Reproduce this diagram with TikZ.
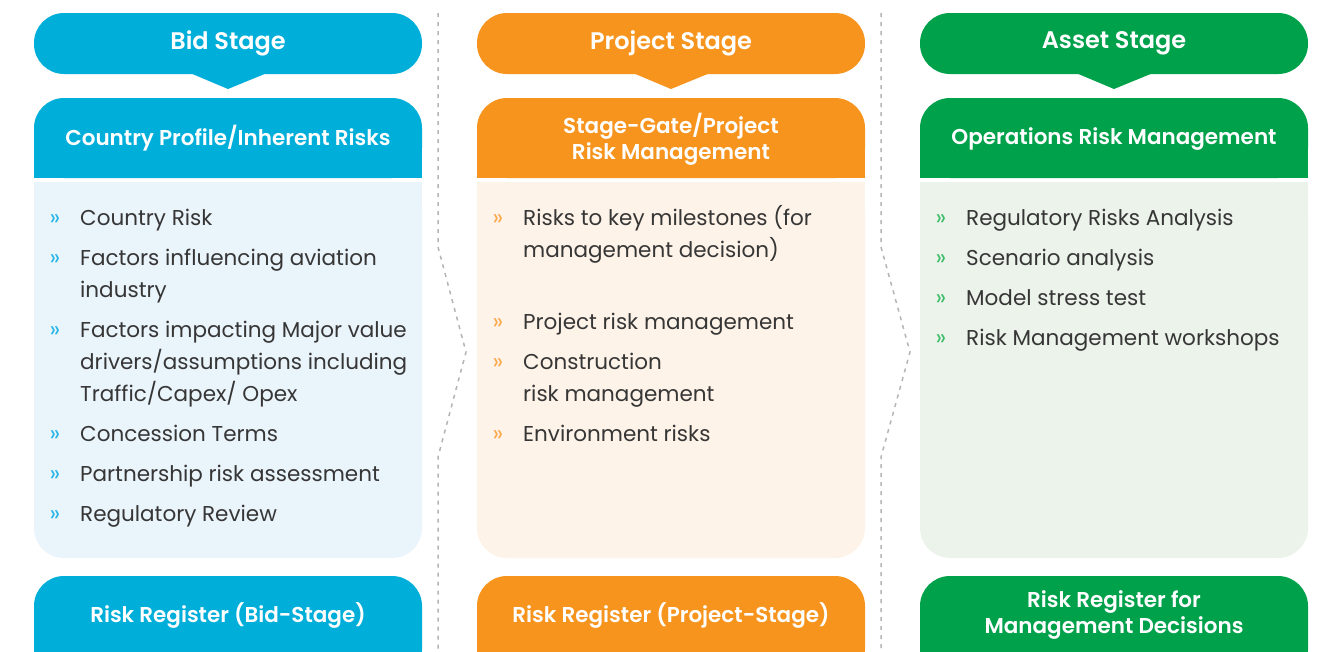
\documentclass[tikz,border=0pt]{standalone}
\usepackage{fontspec}
\setmainfont{Poppins}
\newfontfamily\semib{Poppins SemiBold}
\definecolor{cblue}{HTML}{00AEDA}
\definecolor{corange}{HTML}{F7941D}
\definecolor{cgreen}{HTML}{00A14B}
\definecolor{lblue}{HTML}{EAF4FB}
\definecolor{lorange}{HTML}{FEF3E8}
\definecolor{lgreen}{HTML}{EBF3EA}
\definecolor{bblue}{HTML}{29B6E8}
\definecolor{borange}{HTML}{F9A94B}
\definecolor{bgreen}{HTML}{3DBE6B}
\definecolor{txt}{HTML}{363636}
\definecolor{sep}{HTML}{B5B5B5}
\tikzset{
  head/.style={rounded corners=30pt, minimum width=388pt, minimum height=61pt, inner sep=0pt,
    text=white, font=\fontsize{24}{28}\selectfont\semib},
  subtitle/.style={inner sep=0pt, text=white, align=center, font=\fontsize{21.5}{26}\selectfont\semib},
  line/.style={anchor=base west, inner sep=0pt,
    font=\fontsize{21.5}{25}\selectfont, text=txt},
  bul/.style={anchor=base, inner sep=0pt, font=\fontsize{23}{24}\selectfont},
  sepline/.style={sep, line width=1.5pt, dash pattern=on 4pt off 5pt},
}
\newcommand\panel[3]{%
  % #1 left x, #2 colour, #3 light colour
  \fill[#2] ({#1+156},73) -- ({#1+233},73) -- ({#1+194},89) -- cycle;
  \fill[#2, rounded corners=30pt] (#1,98) rectangle ({#1+388},178);
  \fill[#2] (#1,130) rectangle ({#1+388},178);
  \fill[#3, rounded corners=30pt] (#1,182) rectangle ({#1+388},558);
  \fill[#3] (#1,182) rectangle ({#1+388},240);
  \fill[#2, rounded corners=30pt] (#1,576) rectangle ({#1+388},680);
}
\begin{document}
\begin{tikzpicture}[x=1pt,y=-1pt]
\useasboundingbox (0,0) rectangle (1322,651);
\clip (0,0) rectangle (1322,651);
\fill[white] (0,0) rectangle (1322,651);

\panel{34}{cblue}{lblue}
\panel{477}{corange}{lorange}
\panel{920}{cgreen}{lgreen}

% headers
\node[head, fill=cblue] (h1) at (228,43.5) {Bid Stage};
\node[head, fill=corange] (h2) at (671,43.5) {Project Stage};
\node[head, fill=cgreen] (h3) at (1114,43.5) {Asset Stage};

% sub headers
\node[subtitle] (s1) at (228,138) {Country Profile/Inherent Risks};
\node[subtitle] (s2) at (671,139) {Stage-Gate/Project\\Risk Management};
\node[subtitle] (s3) at (1114,139) {Operations Risk Management};

% bottom registers
\node[subtitle] (r1) at (228,615) {Risk Register (Bid-Stage)};
\node[subtitle] (r2) at (671,615) {Risk Register (Project-Stage)};
\node[subtitle] (r3) at (1114,615) {Risk Register for\\Management Decisions};

% column 1  (y values are baselines)
\foreach \y/\n in {225/a,265/b,337/c,441/d,481/e,521/f}
  \node[bul, text=bblue] (b1\n) at (55,\y) {»};
\node[line] (t1a) at (80,225) {Country Risk};
\node[line] (t1b) at (80,265) {Factors influencing aviation};
\node[line] (t1b2) at (80,297) {industry};
\node[line] (t1c) at (80,337) {Factors impacting Major value};
\node[line] (t1c2) at (80,369) {drivers/assumptions including};
\node[line] (t1c3) at (80,401) {Traffic/Capex/ Opex};
\node[line] (t1d) at (80,441) {Concession Terms};
\node[line] (t1e) at (80,481) {Partnership risk assessment};
\node[line] (t1f) at (80,521) {Regulatory Review};

% column 2
\foreach \y/\n in {225/a,329/b,369/c,441/d}
  \node[bul, text=borange] (b2\n) at (498,\y) {»};
\node[line] (t2a) at (523,225) {Risks to key milestones (for};
\node[line] (t2a2) at (523,257) {management decision)};
\node[line] (t2b) at (523,329) {Project risk management};
\node[line] (t2c) at (523,369) {Construction};
\node[line] (t2c2) at (523,401) {risk management};
\node[line] (t2d) at (523,441) {Environment risks};

% column 3
\foreach \y/\n in {225/a,265/b,305/c,345/d}
  \node[bul, text=bgreen] (b3\n) at (941,\y) {»};
\node[line] (t3a) at (966,225) {Regulatory Risks Analysis};
\node[line] (t3b) at (966,265) {Scenario analysis};
\node[line] (t3c) at (966,305) {Model stress test};
\node[line] (t3d) at (966,345) {Risk Management workshops};

% separators
\coordinate (p1) at (438,13);
\coordinate (p2) at (438,247);
\coordinate (p3) at (466,352);
\coordinate (p4) at (438,457);
\coordinate (p5) at (438,651);
\draw[sepline] (p1) -- (p2) -- (p3) -- (p4) -- (p5);
\coordinate (q1) at (881,13);
\coordinate (q2) at (881,247);
\coordinate (q3) at (910,352);
\coordinate (q4) at (881,457);
\coordinate (q5) at (881,651);
\draw[sepline] (q1) -- (q2) -- (q3) -- (q4) -- (q5);
\end{tikzpicture}
\end{document}
